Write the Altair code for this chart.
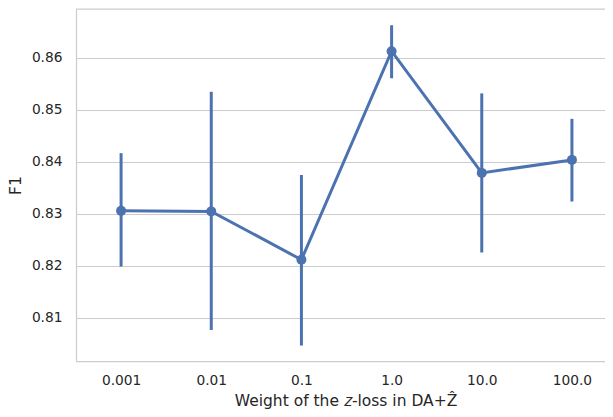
import altair as alt
import pandas as pd

categories = ["0.001", "0.01", "0.1", "1.0", "10.0", "100.0"]
f1_mean = [0.8306, 0.8305, 0.8212, 0.8613, 0.8379, 0.8404]
ci_low = [0.8199, 0.8077, 0.8047, 0.8561, 0.8226, 0.8324]
ci_high = [0.8417, 0.8535, 0.8375, 0.8663, 0.8532, 0.8483]
y_ticks = [0.81, 0.82, 0.83, 0.84, 0.85, 0.86]

df = pd.DataFrame({
    "idx": list(range(len(categories))),
    "weight": categories,
    "f1": f1_mean,
    "lo": ci_low,
    "hi": ci_high,
})

BLUE = "#4c72b0"
GRID = "#cccccc"
TEXT = "#262626"
FONT = "DejaVu Sans"

W = 529
H = 352
STEP = 90.17

label_expr = "[" + ",".join("'" + c + "'" for c in categories) + "][datum.value]"

x_enc = alt.X(
    "idx:Q",
    scale=alt.Scale(domain=[-0.5, -0.5 + W / STEP], nice=False, zero=False),
    axis=alt.Axis(
        values=list(range(len(categories))),
        labelExpr=label_expr,
        title="Weight of the 𝑧-loss in DA+Ẑ",
        grid=False,
        ticks=False,
        tickSize=0,
        labelPadding=12,
        titleY=44,
        titleBaseline="alphabetic",
        titleX=(345.5 - 76),
        titleAnchor="middle",
        titleAlign="center",
        domainColor=GRID,
        domainWidth=1.25,
    ),
)
y_scale = alt.Scale(domain=[0.80173, 0.86942], nice=False, zero=False)
y_axis = alt.Axis(
    values=y_ticks,
    format=".2f",
    title="F1",
    grid=True,
    gridColor=GRID,
    gridWidth=1.1,
    ticks=False,
    tickSize=0,
    labelPadding=14,
    titleX=-56,
    titleY=H / 2,
    titleAngle=270,
    titleAlign="center",
    titleBaseline="alphabetic",
    domainColor=GRID,
    domainWidth=1.25,
)

base = alt.Chart(df)

err = base.mark_rule(color=BLUE, strokeWidth=3).encode(
    x=x_enc,
    y=alt.Y("lo:Q", scale=y_scale, axis=y_axis),
    y2="hi:Q",
)
line = base.mark_line(color=BLUE, strokeWidth=3).encode(
    x="idx:Q",
    y="f1:Q",
)
pts = base.mark_point(color=BLUE, filled=True, opacity=1, size=100).encode(
    x="idx:Q",
    y="f1:Q",
)
top = alt.Chart(pd.DataFrame({"a": [0]})).mark_rule(color=GRID, strokeWidth=1.25).encode(
    x=alt.value(0), x2=alt.value(W), y=alt.value(0)
)

chart = (
    alt.layer(err, line, pts, top)
    .properties(
        width=W,
        height=H,
        autosize=alt.AutoSizeParams(type="none"),
        padding={"left": 68, "top": 1, "right": 0, "bottom": 48},
        background="white",
    )
    .configure_view(stroke=None)
    .configure_axis(
        labelFont=FONT,
        titleFont=FONT,
        labelFontSize=13.75,
        titleFontSize=15.5,
        labelColor=TEXT,
        titleColor=TEXT,
        titleFontWeight="normal",
    )
)

chart.save("out.html", embed_options={"renderer": "svg", "actions": False})
